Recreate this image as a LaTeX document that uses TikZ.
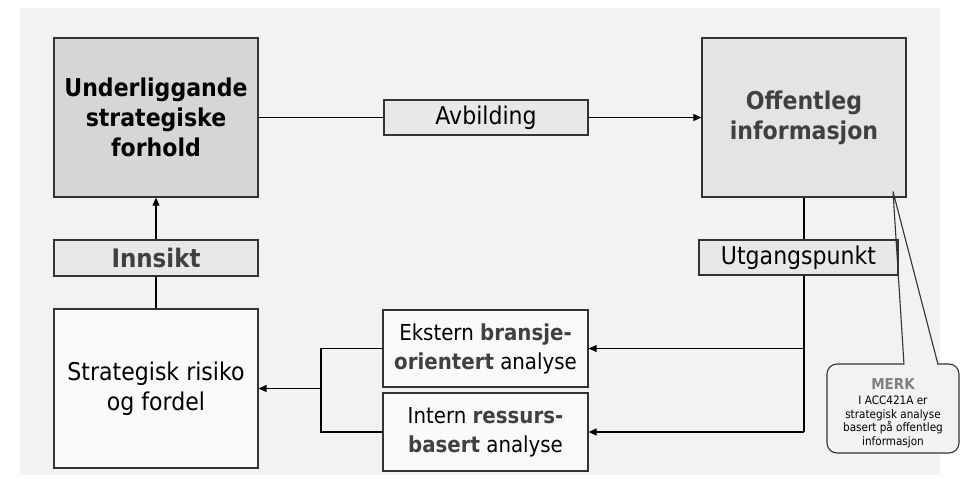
\documentclass[tikz,border=0pt]{standalone}
\usepackage{fontspec}
\setmainfont{DejaVu Sans}[FakeStretch=0.9]
\usetikzlibrary{arrows.meta}
\definecolor{canvas}{HTML}{F2F2F2}
\definecolor{edge}{HTML}{333333}
\definecolor{darkfill}{HTML}{D6D6D6}
\definecolor{midfill}{HTML}{E4E4E4}
\definecolor{labelfill}{HTML}{E8E8E8}
\definecolor{paperfill}{HTML}{FAFAFA}
\definecolor{softink}{HTML}{404040}
\definecolor{noteink}{HTML}{808080}
\begin{document}
\begin{tikzpicture}[x=1pt,y=-1pt,
  box/.style={draw=edge, line width=1.3pt, inner sep=0pt, align=center},
  bigbox/.style={box, minimum width=204pt, minimum height=159pt},
  tagbox/.style={box, fill=labelfill, minimum height=35pt},
  anabox/.style={box, fill=paperfill, minimum width=205pt, minimum height=77pt,
    font=\fontsize{22}{29}\selectfont},
  bigtext/.style={font=\fontsize{24.5}{30}\selectfont},
  link/.style={draw=black, line width=1.1pt},
  arrowlink/.style={link, -{Triangle[length=8pt,width=7pt]}}
]
% canvas
\useasboundingbox (0,0) rectangle (962,483);
\fill[white] (0,0) rectangle (962,483);
\fill[canvas] (20,8) rectangle (940,475);

% note callout (drawn first so the boxes sit above its pointer)
\node[draw=edge, line width=1.1pt, fill=canvas, rounded corners=10pt,
      minimum width=132pt, minimum height=89pt, inner sep=0pt] (note) at (893,408.5) {};
\node[inner sep=0pt, align=center, font=\fontsize{11.6}{13.6}\selectfont]
  (notetext) at ([yshift=-4.5pt]note.center)
  {{\fontsize{15}{17}\selectfont\bfseries\color{noteink}MERK}\\[1.5pt]
   I ACC421A er\\strategisk analyse\\basert på offentleg\\informasjon};
\coordinate (tip) at (893,191.5);
\coordinate (pl) at (904,364.5);
\coordinate (pr) at (938,364.5);
\fill[canvas] ([yshift=-1.6pt]pl) -- (tip) -- ([yshift=-1.6pt]pr) -- cycle;

% main boxes
\node[bigbox, fill=darkfill, bigtext] (under) at (156,117.5)
  {\bfseries Underliggande\\\bfseries strategiske\\\bfseries forhold};
\node[bigbox, fill=midfill, bigtext, text=softink] (offent) at (804,117.5)
  {\bfseries Offentleg\\\bfseries informasjon};
\node[bigbox, fill=paperfill, bigtext] (risk) at (156,388.5)
  {Strategisk risiko\\og fordel};

% label boxes
\node[tagbox, minimum width=204pt, bigtext] (avb) at (486,117.5) {Avbilding};
\node[tagbox, minimum width=204pt, minimum height=36pt,
      font=\fontsize{25.5}{30}\selectfont, text=softink] (innsikt) at (156,258)
  {\bfseries Innsikt};
\node[tagbox, minimum width=199pt, bigtext] (utg) at (798.5,257.5) {Utgangspunkt};

% analysis boxes
\node[anabox] (ekst) at (485.5,348.5)
  {Ekstern {\bfseries\color{softink}bransje-}\\{\bfseries\color{softink}orientert} analyse};
\node[anabox, minimum height=78pt] (intern) at (485.5,432)
  {Intern {\bfseries\color{softink}ressurs-}\\{\bfseries\color{softink}basert} analyse};

% connectors
\draw[link] (under.east) -- (avb.west);
\draw[arrowlink] (avb.east) -- (offent.west);
\draw[arrowlink] (innsikt.north) -- (under.south);
\draw[link] (risk.north) -- (innsikt.south);
\draw[link] (offent.south) -- (offent.south |- utg.north);
\coordinate (down) at (offent.south |- intern.east);
\draw[link] (offent.south |- utg.south) -- (down);
\draw[arrowlink] (down) -- (intern.east);
\draw[arrowlink] (offent.south |- ekst.east) -- (ekst.east);
\coordinate (fork) at (321,388.5);
\draw[link] (ekst.west) -- (fork |- ekst.west) -- (fork |- intern.west) -- (intern.west);
\draw[arrowlink] (fork) -- (risk.east);

% note pointer
\draw[draw=edge, line width=1.1pt] (pl) -- (tip) -- (pr);
\end{tikzpicture}
\end{document}
